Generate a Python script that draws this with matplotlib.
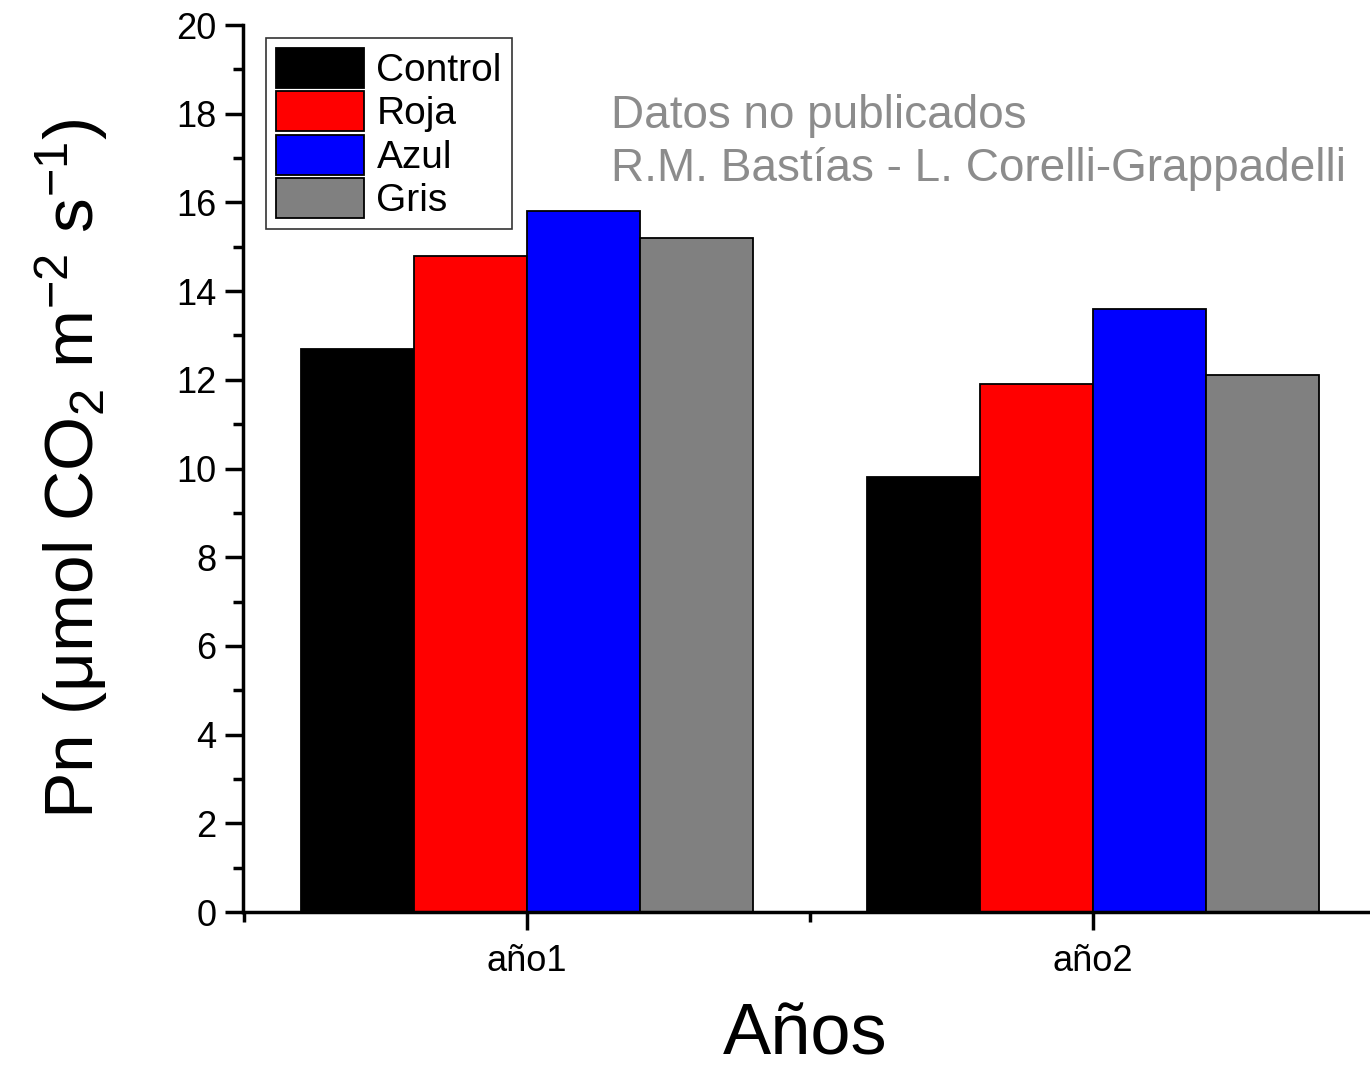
import numpy as np
import matplotlib.pyplot as plt
from matplotlib.ticker import MultipleLocator, FixedLocator

plt.rcParams['font.family'] = ['Liberation Sans', 'DejaVu Sans']
plt.rcParams['mathtext.fontset'] = 'custom'
plt.rcParams['mathtext.rm'] = 'Liberation Sans'
plt.rcParams['mathtext.it'] = 'Liberation Sans:italic'

years = ['año1', 'año2']
treatments = ['Control', 'Roja', 'Azul', 'Gris']
colors = ['#000000', '#ff0000', '#0000ff', '#808080']
pn = {
    'Control': [12.7, 9.8],
    'Roja': [14.8, 11.9],
    'Azul': [15.8, 13.6],
    'Gris': [15.2, 12.1],
}

fig = plt.figure(figsize=(13.7, 10.74), dpi=100)
ax = fig.add_axes([0.1774, 0.1508, 0.8211, 0.8259])

x = np.arange(1, len(years) + 1)
width = 0.2
offsets = [-1.5, -0.5, 0.5, 1.5]
for name, col, off in zip(treatments, colors, offsets):
    ax.bar(x + off * width, pn[name], width, color=col, edgecolor='black',
           linewidth=1.3, label=name)

ax.set_xlim(0.498, 2.486)
ax.set_ylim(0, 20)
ax.set_xticks(x)
ax.set_xticklabels(years)
ax.xaxis.set_minor_locator(FixedLocator([0.5, 1.5]))
ax.yaxis.set_major_locator(MultipleLocator(2))
ax.yaxis.set_minor_locator(MultipleLocator(1))

for s in ['top', 'right']:
    ax.spines[s].set_visible(False)
for s in ['left', 'bottom']:
    ax.spines[s].set_linewidth(2.5)

ax.tick_params(axis='both', which='major', direction='out', length=13, width=2.5,
               labelsize=26, pad=6)
ax.tick_params(axis='both', which='minor', direction='out', length=7, width=2.5)
ax.tick_params(axis='x', which='major', pad=10)

ax.set_ylabel('Pn (μmol CO$_2$ m$^{-2}$ s$^{-1}$)', fontsize=50, labelpad=48)
ax.set_xlabel('Años', fontsize=52, labelpad=17)

leg = ax.legend(loc='upper left', bbox_to_anchor=(0.0204, 0.985), fontsize=28,
                frameon=True, fancybox=False, edgecolor='black',
                handlelength=2.26, handleheight=1.2, handletextpad=0.33,
                labelspacing=0.06, borderpad=0.25, borderaxespad=0)
leg.get_frame().set_linewidth(1.2)

ax.text(0.327, 0.922, 'Datos no publicados\nR.M. Bastías - L. Corelli-Grappadelli',
        transform=ax.transAxes, fontsize=33, color='#8c8c8c', va='top',
        ha='left', linespacing=1.27)

fig.savefig('out.png', dpi=100)
